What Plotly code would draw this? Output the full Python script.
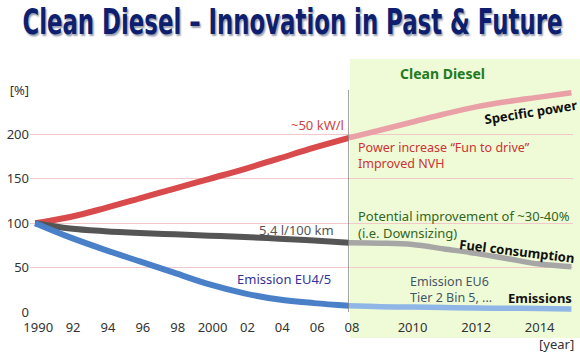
import plotly.graph_objects as go

# ---------------- data ----------------
years_past = [1990, 1992, 1994, 1996, 1998, 2000, 2002, 2004, 2006, 2008]
power_past = [100, 107, 117, 128, 139, 150, 161, 173, 185, 196]
fuel_past = [100, 94, 91, 89, 87.5, 86, 84.5, 82.5, 80.5, 78]
emis_past = [100, 84, 70, 57, 44, 31, 21, 14, 10, 7]

years_fut = [2008, 2009, 2010, 2011, 2012, 2013, 2014, 2015]
power_fut = [196, 205, 214, 223, 231, 237, 242, 247]
fuel_fut = [78, 77.5, 76, 71, 66, 60, 54, 51]
emis_fut = [7, 6, 5.5, 5, 4.5, 4.2, 4, 3.5]

past_ticks = [1990, 1992, 1994, 1996, 1998, 2000, 2002, 2004, 2006, 2008]
past_ticktext = ["1990", "92", "94", "96", "98", "2000", "02", "04", "06", "08"]
fut_ticks = [2010, 2012, 2014]
fut_ticktext = ["2010", "2012", "2014"]
y_ticks = [0, 50, 100, 150, 200, 250]
y_ticktext = ["0", "50", "100", "150", "200", "[%]"]

W, H = 580, 356
def px(x):
    return x / W
def py(y):
    return 1 - y / H

FONT = "Noto Sans"

fig = go.Figure()

def add(x, y, color, width, xa):
    fig.add_trace(go.Scatter(x=x, y=y, mode="lines", xaxis=xa, yaxis="y",
                             line=dict(color=color, width=width, shape="spline"),
                             hoverinfo="skip", showlegend=False))

add(years_past, power_past, "#d94a4c", 6, "x")
add(years_past, fuel_past, "#555555", 6, "x")
add(years_past, emis_past, "#4a80c8", 6, "x")
add(years_fut, power_fut, "#e9a0a6", 5.5, "x2")
add(years_fut, fuel_fut, "#a6a6a6", 5.5, "x2")
add(years_fut, emis_fut, "#8fb6e6", 5.5, "x2")

split = px(349)
axis_common = dict(showgrid=False, zeroline=False, showline=False, ticks="",
                   automargin=False, tickfont=dict(size=13, color="#333333"))
fig.update_layout(
    template="none",
    width=W, height=H,
    margin=dict(l=0, r=0, t=0, b=0, pad=0),
    paper_bgcolor="white",
    plot_bgcolor="rgba(0,0,0,0)",
    font=dict(family=FONT, size=13, color="#333333"),
    xaxis=dict(domain=[px(30), split], range=[1989.7, 2008],
               tickvals=past_ticks, ticktext=past_ticktext, anchor="y",
               ticklabelstandoff=6, ticklabelshift=3, **axis_common),
    xaxis2=dict(domain=[split, px(573)], range=[2008, 2015.05],
                tickvals=fut_ticks, ticktext=fut_ticktext, anchor="y",
                ticklabelstandoff=6, **axis_common),
    yaxis=dict(domain=[py(312), py(90)], range=[0, 250],
               tickvals=y_ticks, ticktext=y_ticktext, anchor="x",
               showgrid=True, gridcolor="#f2c8c8", gridwidth=1.2,
               zeroline=False, showline=False, ticks="", automargin=False,
               tickfont=dict(size=13, color="#333333")),
    shapes=[
        dict(type="rect", xref="paper", yref="paper", x0=px(350), x1=1.0,
             y0=py(338), y1=py(59), fillcolor="#effbd6", line=dict(width=0),
             layer="below"),
        dict(type="line", xref="x", yref="y", x0=2008, x1=2008, y0=0, y1=250,
             line=dict(color="#858585", width=1.5), layer="above"),
    ],
)

ann = []
def text(t, x, y, color, size=13, bold=False, xanchor="center", angle=0, family=FONT):
    ann.append(dict(text=("<b>%s</b>" % t) if bold else t, x=px(x), y=py(y),
                    xref="paper", yref="paper", showarrow=False, align=xanchor if xanchor != "center" else "center",
                    xanchor=xanchor, yanchor="middle", textangle=angle,
                    font=dict(family=family, size=size, color=color)))

text("[year]", 556, 344, "#333333")
text("Clean Diesel", 442, 74, "#1f7a22", size=14, bold=True)
text("~50 kW/l", 346, 125, "#cc4444", xanchor="right")
text("Power increase “Fun to drive”<br>Improved NVH", 356, 155, "#cc3333", size=12.5, xanchor="left")
text("Specific power", 531, 112, "#111111", size=13, bold=True, angle=-9)
text("5.4 l/100 km", 336, 230, "#555555", xanchor="right")
text("Potential improvement of ~30-40%<br>(i.e. Downsizing)", 356, 224.5, "#336622", xanchor="left")
text("Fuel consumption", 517, 251, "#111111", size=13, bold=True, angle=7)
text("Emission EU4/5", 333, 279, "#333399", xanchor="right")
text("Emission EU6<br>Tier 2 Bin 5, ...", 408, 289.5, "#445566", size=12.5, xanchor="left")
text("Emissions", 540, 298, "#111111", bold=True)

ann.append(dict(text="<b>Clean Diesel – Innovation in Past &amp; Future</b>",
                x=px(292), y=py(22), xref="paper", yref="paper", showarrow=False,
                xanchor="center", yanchor="middle",
                font=dict(family="DejaVu Sans Condensed, Liberation Sans Narrow, Roboto, sans-serif",
                          size=35, color="#0d1f6e",
                          shadow="2px 2px 2px #9aa0b0")))
fig.update_layout(annotations=ann)

post = """
document.body.style.margin = '0';
var gd = document.getElementById('{plot_id}');
gd.querySelectorAll('text.annotation-text').forEach(function (t) {
  if (t.textContent.indexOf('Innovation') >= 0) {
    t.setAttribute('textLength', '540');
    t.setAttribute('lengthAdjust', 'spacingAndGlyphs');
  }
});
"""

fig.write_html("out.html", post_script=post, config={"displayModeBar": False})
